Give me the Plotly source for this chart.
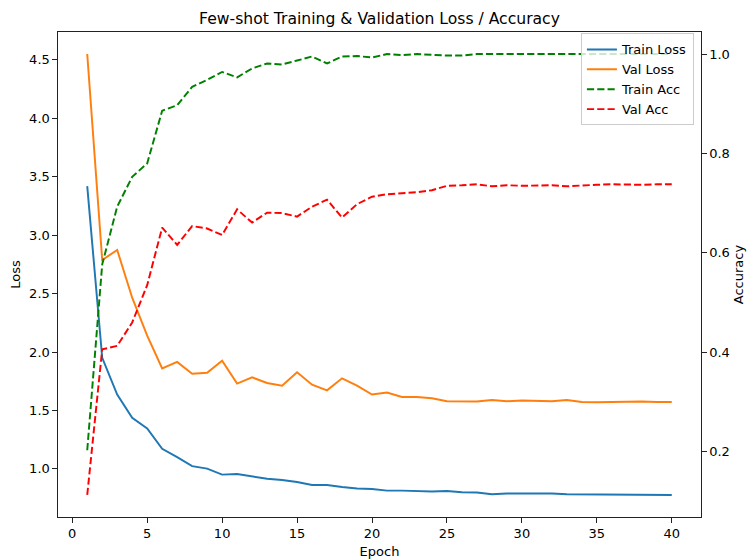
import plotly.graph_objects as go

epochs = list(range(1, 41))

train_loss = [3.42, 1.95, 1.636, 1.437, 1.346, 1.172, 1.10, 1.024, 1.002, 0.951,
              0.956, 0.933, 0.916, 0.905, 0.888, 0.862, 0.862, 0.845, 0.833, 0.828,
              0.814, 0.814, 0.808, 0.806, 0.81, 0.80, 0.798, 0.783, 0.79, 0.79,
              0.792, 0.79, 0.783, 0.783, 0.783, 0.777, 0.78, 0.78, 0.78, 0.777]

val_loss = [4.55, 2.788, 2.873, 2.465, 2.14, 1.86, 1.915, 1.815, 1.823, 1.926,
            1.73, 1.783, 1.735, 1.712, 1.826, 1.721, 1.672, 1.775, 1.712, 1.636,
            1.653, 1.616, 1.616, 1.604, 1.579, 1.579, 1.576, 1.59, 1.579, 1.585,
            1.579, 1.579, 1.59, 1.573, 1.57, 1.573, 1.576, 1.576, 1.573, 1.573]

train_acc = [0.203, 0.577, 0.693, 0.753, 0.78, 0.886, 0.897, 0.934, 0.948, 0.964,
             0.953, 0.971, 0.981, 0.979, 0.987, 0.995, 0.981, 0.995, 0.996, 0.993,
             1.0, 0.998, 1.0, 0.998, 0.997, 0.997, 1.0, 1.0, 1.0, 1.0,
             0.999, 0.999, 1.0, 1.0, 1.0, 1.0, 1.0, 1.0, 1.0, 1.0]

val_acc = [0.113, 0.406, 0.413, 0.46, 0.535, 0.651, 0.616, 0.654, 0.649, 0.636,
           0.6875, 0.661, 0.681, 0.68, 0.673, 0.693, 0.707, 0.671, 0.698, 0.713,
           0.718, 0.72, 0.722, 0.726, 0.735, 0.736, 0.738, 0.734, 0.736, 0.735,
           0.735, 0.736, 0.734, 0.736, 0.737, 0.738, 0.737, 0.737, 0.738, 0.738]

x_ticks = [0, 5, 10, 15, 20, 25, 30, 35, 40]
loss_ticks = [1.0, 1.5, 2.0, 2.5, 3.0, 3.5, 4.0, 4.5]
acc_ticks = [0.2, 0.4, 0.6, 0.8, 1.0]

TITLE = "Few-shot Training & Validation Loss / Accuracy"
FONT = "DejaVu Sans"
LW = 1.95
DASH = "7.2px,3.1px"


def padded(vals, frac=0.05):
    lo, hi = min(vals), max(vals)
    m = (hi - lo) * frac
    return [lo - m, hi + m]


xr = padded(epochs)
loss_r = padded(train_loss + val_loss)
acc_r = padded(train_acc + val_acc)

fig = go.Figure()
fig.add_trace(go.Scatter(x=epochs, y=train_loss, name="Train Loss", mode="lines",
                         line=dict(color="#1f77b4", width=LW), yaxis="y"))
fig.add_trace(go.Scatter(x=epochs, y=val_loss, name="Val Loss", mode="lines",
                         line=dict(color="#ff7f0e", width=LW), yaxis="y"))
fig.add_trace(go.Scatter(x=epochs, y=train_acc, name="Train Acc", mode="lines",
                         line=dict(color="#008000", width=LW, dash=DASH), yaxis="y2"))
fig.add_trace(go.Scatter(x=epochs, y=val_acc, name="Val Acc", mode="lines",
                         line=dict(color="#ff0000", width=LW, dash=DASH), yaxis="y2"))

axis_common = dict(
    showgrid=False, zeroline=False, showline=True, linecolor="#222", linewidth=1,
    ticks="outside", ticklen=4.6, tickwidth=1, tickcolor="#222",
    tickfont=dict(family=FONT, size=13, color="black"), automargin=False,
)

fig.update_layout(
    width=750, height=560,
    margin=dict(l=58, r=49, t=32, b=43),
    paper_bgcolor="white", plot_bgcolor="white",
    font=dict(family=FONT, size=13, color="black"),
    title=dict(text=TITLE, x=0.5, xref="paper", y=1 - 18.5 / 560, yref="container",
               xanchor="center", yanchor="middle",
               font=dict(family=FONT, size=15.6, color="black")),
    xaxis=dict(range=xr, tickvals=x_ticks, mirror=True,
               title=dict(text="Epoch", standoff=6, font=dict(family=FONT, size=13)),
               **axis_common),
    yaxis=dict(range=loss_r, tickvals=loss_ticks, tickformat=".1f",
               title=dict(text="Loss", standoff=5, font=dict(family=FONT, size=13)),
               **axis_common),
    yaxis2=dict(range=acc_r, tickvals=acc_ticks, tickformat=".1f",
                overlaying="y", side="right", anchor="x",
                title=dict(text="Accuracy", standoff=5, font=dict(family=FONT, size=13)),
                **axis_common),
    legend=dict(x=0.989, y=0.997, xanchor="right", yanchor="top",
                bgcolor="rgba(255,255,255,0.8)", bordercolor="#cccccc", borderwidth=1,
                font=dict(family=FONT, size=13, color="black"),
                itemwidth=30, tracegroupgap=0),
    showlegend=True,
)

fig.write_html("out.html")
